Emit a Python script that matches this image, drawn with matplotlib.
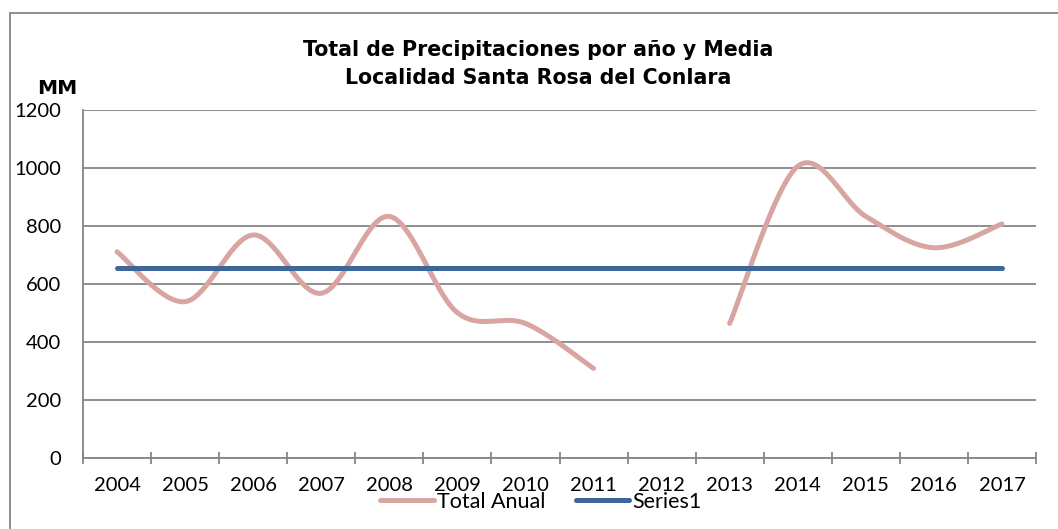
import numpy as np
import matplotlib
matplotlib.use("Agg")
from matplotlib import pyplot as plt
from matplotlib.patches import Rectangle
from matplotlib.lines import Line2D

years = ["2004", "2005", "2006", "2007", "2008", "2009", "2010",
         "2011", "2012", "2013", "2014", "2015", "2016", "2017"]
total_anual = [710, 538, 768, 567, 832, 500, 463, 308, None, 463, 1005, 832, 724, 806]
media = [655] * 14

pink = "#D8A5A2"
blue = "#3E6698"
grid_gray = "#868686"

plt.rcParams['font.family'] = ['Lato', 'DejaVu Sans']


def smooth(xs, ys, n=40):
    # catmull-rom like excel's smoothed line
    xs = np.asarray(xs, float)
    ys = np.asarray(ys, float)
    out_x, out_y = [], []
    for i in range(len(xs) - 1):
        p0 = (xs[i - 1], ys[i - 1]) if i > 0 else (xs[i], ys[i])
        p1 = (xs[i], ys[i])
        p2 = (xs[i + 1], ys[i + 1])
        p3 = (xs[i + 2], ys[i + 2]) if i + 2 < len(xs) else (xs[i + 1], ys[i + 1])
        c1 = (p1[0] + (p2[0] - p0[0]) / 6, p1[1] + (p2[1] - p0[1]) / 6)
        c2 = (p2[0] - (p3[0] - p1[0]) / 6, p2[1] - (p3[1] - p1[1]) / 6)
        t = np.linspace(0, 1, n)
        bx = (1-t)**3*p1[0] + 3*(1-t)**2*t*c1[0] + 3*(1-t)*t**2*c2[0] + t**3*p2[0]
        by = (1-t)**3*p1[1] + 3*(1-t)**2*t*c1[1] + 3*(1-t)*t**2*c2[1] + t**3*p2[1]
        out_x.extend(bx)
        out_y.extend(by)
    return out_x, out_y


fig = plt.figure(figsize=(10.58, 5.29), dpi=100)
ax = fig.add_axes([83/1058, 1 - 457.7/529, (1036-83)/1058, (457.7-109.7)/529])

# outer chart frame
fig.patches.append(Rectangle((10/1058, -0.2), 1.2, 1 - 13/529 + 0.2,
                             transform=fig.transFigure, fill=False,
                             edgecolor=grid_gray, lw=1.3))

# split the series at the gap
segs, cur = [], []
for i, v in enumerate(total_anual):
    if v is None:
        if cur:
            segs.append(cur)
        cur = []
    else:
        cur.append((i, v))
if cur:
    segs.append(cur)

for s in segs:
    sx, sy = smooth([p[0] for p in s], [p[1] for p in s])
    ax.plot(sx, sy, color=pink, lw=3.6, solid_capstyle='round', zorder=3)

ax.plot(range(len(years)), media, color=blue, lw=3.6, solid_capstyle='round', zorder=4)

ax.set_xlim(-0.5, len(years) - 0.5)
ax.set_ylim(0, 1200)
ax.set_yticks(range(0, 1201, 200))
ax.grid(axis='y', color=grid_gray, lw=1.3)
ax.set_axisbelow(True)

ax.set_xticks(range(len(years)))
ax.set_xticklabels(years, fontsize=14.5)
ax.set_xticks(np.arange(-0.5, len(years), 1), minor=True)
ax.tick_params(axis='x', which='major', length=0, pad=14)
ax.tick_params(axis='x', which='minor', direction='inout', length=9, width=1.3, color=grid_gray)
ax.tick_params(axis='y', length=0, pad=16, labelsize=14.5)

for side in ['top', 'right']:
    ax.spines[side].set_visible(False)
for side in ['left', 'bottom']:
    ax.spines[side].set_color(grid_gray)
    ax.spines[side].set_linewidth(1.3)

fig.text(538/1058, 1 - 64/529, "Total de Precipitaciones por año y Media\nLocalidad Santa Rosa del Conlara",
         ha='center', va='center', fontsize=14.8, fontweight='bold', family='DejaVu Sans',
         linespacing=1.55)
fig.text(57/1058, 1 - 88/529, "MM", ha='center', va='center', fontsize=14.5, fontweight='bold',
         family='DejaVu Sans')

handles = [Line2D([], [], color=pink, lw=3.6, solid_capstyle='round'),
           Line2D([], [], color=blue, lw=3.6, solid_capstyle='round')]
fig.legend(handles, ["Total Anual", "Series1"], loc='center', bbox_to_anchor=(541/1058, 1 - 502/529),
           ncol=2, frameon=False, fontsize=15.5, handlelength=2.5, handletextpad=0.15,
           columnspacing=1.4, borderpad=0, borderaxespad=0)

fig.savefig("out.png", dpi=100)
